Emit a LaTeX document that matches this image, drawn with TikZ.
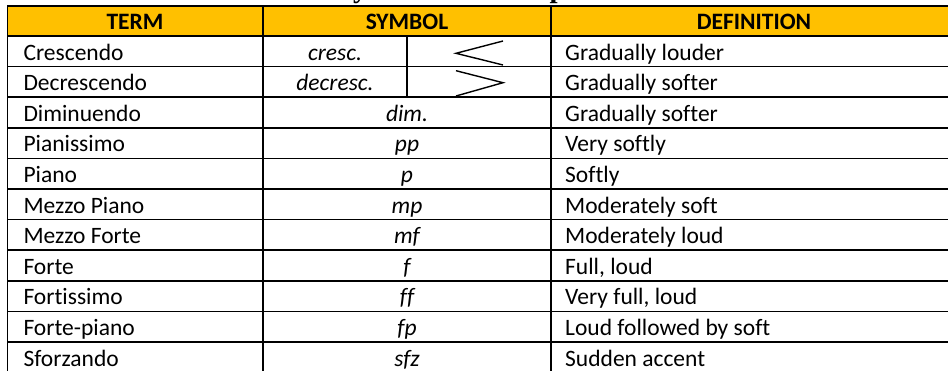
\documentclass[tikz,border=0pt]{standalone}
\usepackage{fontspec}
\setmainfont{Carlito}[Ligatures=NoCommon]
\newfontfamily\titlefont{Liberation Serif}
\definecolor{hdr}{HTML}{FFC000}
\definecolor{pin}{HTML}{222222}
\begin{document}
\begin{tikzpicture}[x=1pt,y=-1pt,
  grid/.style={line width=1.5pt, black, line cap=rect},
  body/.style={font=\fontsize{23.5}{28}\selectfont, inner sep=0pt},
  head/.style={font=\fontsize{23.5}{28}\selectfont\bfseries, inner sep=0pt, anchor=base},
  sym/.style={font=\fontsize{23.5}{28}\selectfont\itshape, inner sep=0pt, anchor=base},
  hairpin/.style={line width=1.4pt, pin, line join=miter}]
\clip (0,0) rectangle (948,370);
% title (cut off at top)
\node[anchor=base west, inner sep=0pt, font=\fontsize{29}{32}\selectfont\titlefont\bfseries] (title) at (332,-2.3) {Dynamics and Expression Marks};
% header fill
\fill[hdr] (7.5,6) rectangle (965,36);
% horizontal rules
\foreach \yy in {6,36,66.6,97.2,127.8,158.4,189,219.6,250.2,280.8,311.4,342,372.6}
  \draw[grid] (7.5,\yy) -- (965,\yy);
% vertical rules
\draw[grid] (7.5,6) -- (7.5,372.6);
\draw[grid] (263,6) -- (263,372.6);
\draw[grid] (551,6) -- (551,372.6);
\draw[grid] (407,36) -- (407,97.2);
% header texts
\node[head] (hterm) at (135,29.6) {TERM};
\node[head] (hsym) at (407,29.6) {SYMBOL};
\node[head] (hdef) at (754,29.6) {DEFINITION};
% body rows
\foreach \i/\t/\d in {1/Crescendo/Gradually louder,2/Decrescendo/Gradually softer,3/Diminuendo/Gradually softer,4/Pianissimo/Very softly,5/Piano/Softly,6/Mezzo Piano/Moderately soft,7/Mezzo Forte/Moderately loud,8/Forte/{Full, loud},9/Fortissimo/{Very full, loud},10/Forte-piano/Loud followed by soft,11/Sforzando/Sudden accent}{
  \pgfmathsetmacro\bl{36+30.6*(\i-1)+24}
  \node[body, anchor=base west] (t\i) at (23.3,\bl) {\t};
  \node[body, anchor=base west] (d\i) at (565,\bl) {\d};
}
% symbols
\node[sym] (s1) at (335,60) {cresc.};
\node[sym] (s2) at (335,90.6) {decresc.};
\foreach \i/\s in {3/dim.,4/pp,5/p,6/mp,7/mf,8/f,9/ff,10/fp,11/sfz}{
  \pgfmathsetmacro\bl{36+30.6*(\i-1)+24}
  \node[sym] (s\i) at (407,\bl) {\s};
}
% hairpins
\draw[hairpin] (503,41) -- (456,53.3) -- (503,65);
\draw[hairpin] (456,70.7) -- (503,82.7) -- (456,96);
\end{tikzpicture}
\end{document}
